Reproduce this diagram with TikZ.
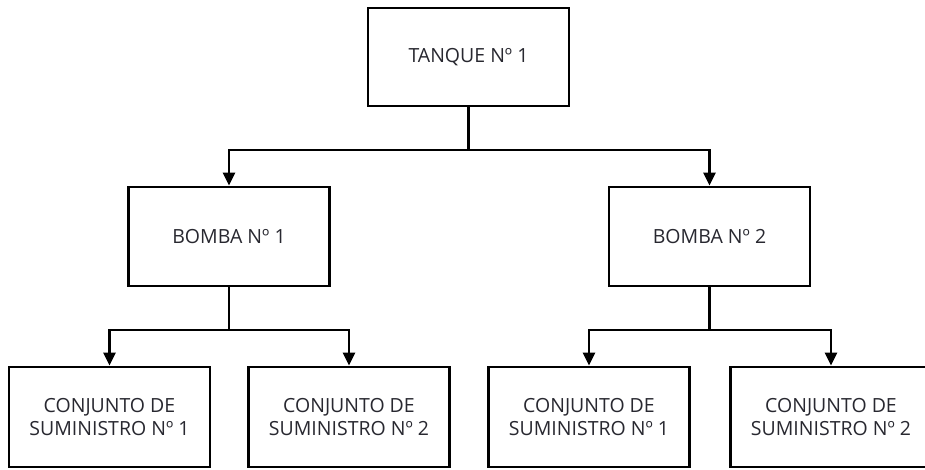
\documentclass[tikz,border=0pt]{standalone}
\usepackage{fontspec}
\setmainfont{Open Sans}
\usetikzlibrary{arrows.meta}
\definecolor{txt}{RGB}{40,40,48}
\begin{document}
\begin{tikzpicture}[x=1pt,y=-1pt,
  box/.style={draw=black, line width=2.8pt, minimum width=201pt, minimum height=98pt,
    inner sep=0pt, align=center, text=txt,
    font=\fontsize{19.5}{23}\selectfont},
  link/.style={line width=2.6pt},
  arr/.style={link, -{Triangle[width=12pt,length=13pt]}}]
\useasboundingbox (0,0) rectangle (925,469);
\clip (0,0) rectangle (925,469);
\fill[white] (0,0) rectangle (925,469);
\node[box] (top) at (468.5,57) {TANQUE Nº 1};
\node[box, minimum height=99pt] (b1) at (229,236.5) {BOMBA Nº 1};
\node[box, minimum height=99pt] (b2) at (709.5,236.5) {BOMBA Nº 2};
\node[box, minimum height=100pt] (c1) at (109.5,417) {CONJUNTO DE\\SUMINISTRO Nº 1};
\node[box, minimum height=100pt] (c2) at (349,417) {CONJUNTO DE\\SUMINISTRO Nº 2};
\node[box, minimum height=100pt] (c3) at (589,417) {CONJUNTO DE\\SUMINISTRO Nº 1};
\node[box, minimum height=100pt] (c4) at (831,417) {CONJUNTO DE\\SUMINISTRO Nº 2};
\coordinate (j0) at (468.5,150);
\coordinate (j1) at (229,330);
\coordinate (j2) at (709.5,330);
\draw[link] (top.south) -- (j0);
\draw[arr] (j0) -| (b1.north);
\draw[arr] (j0) -| (b2.north);
\draw[link] (b1.south) -- (j1);
\draw[arr] (j1) -| (c1.north);
\draw[arr] (j1) -| (c2.north);
\draw[link] (b2.south) -- (j2);
\draw[arr] (j2) -| (c3.north);
\draw[arr] (j2) -| (c4.north);
\end{tikzpicture}
\end{document}
